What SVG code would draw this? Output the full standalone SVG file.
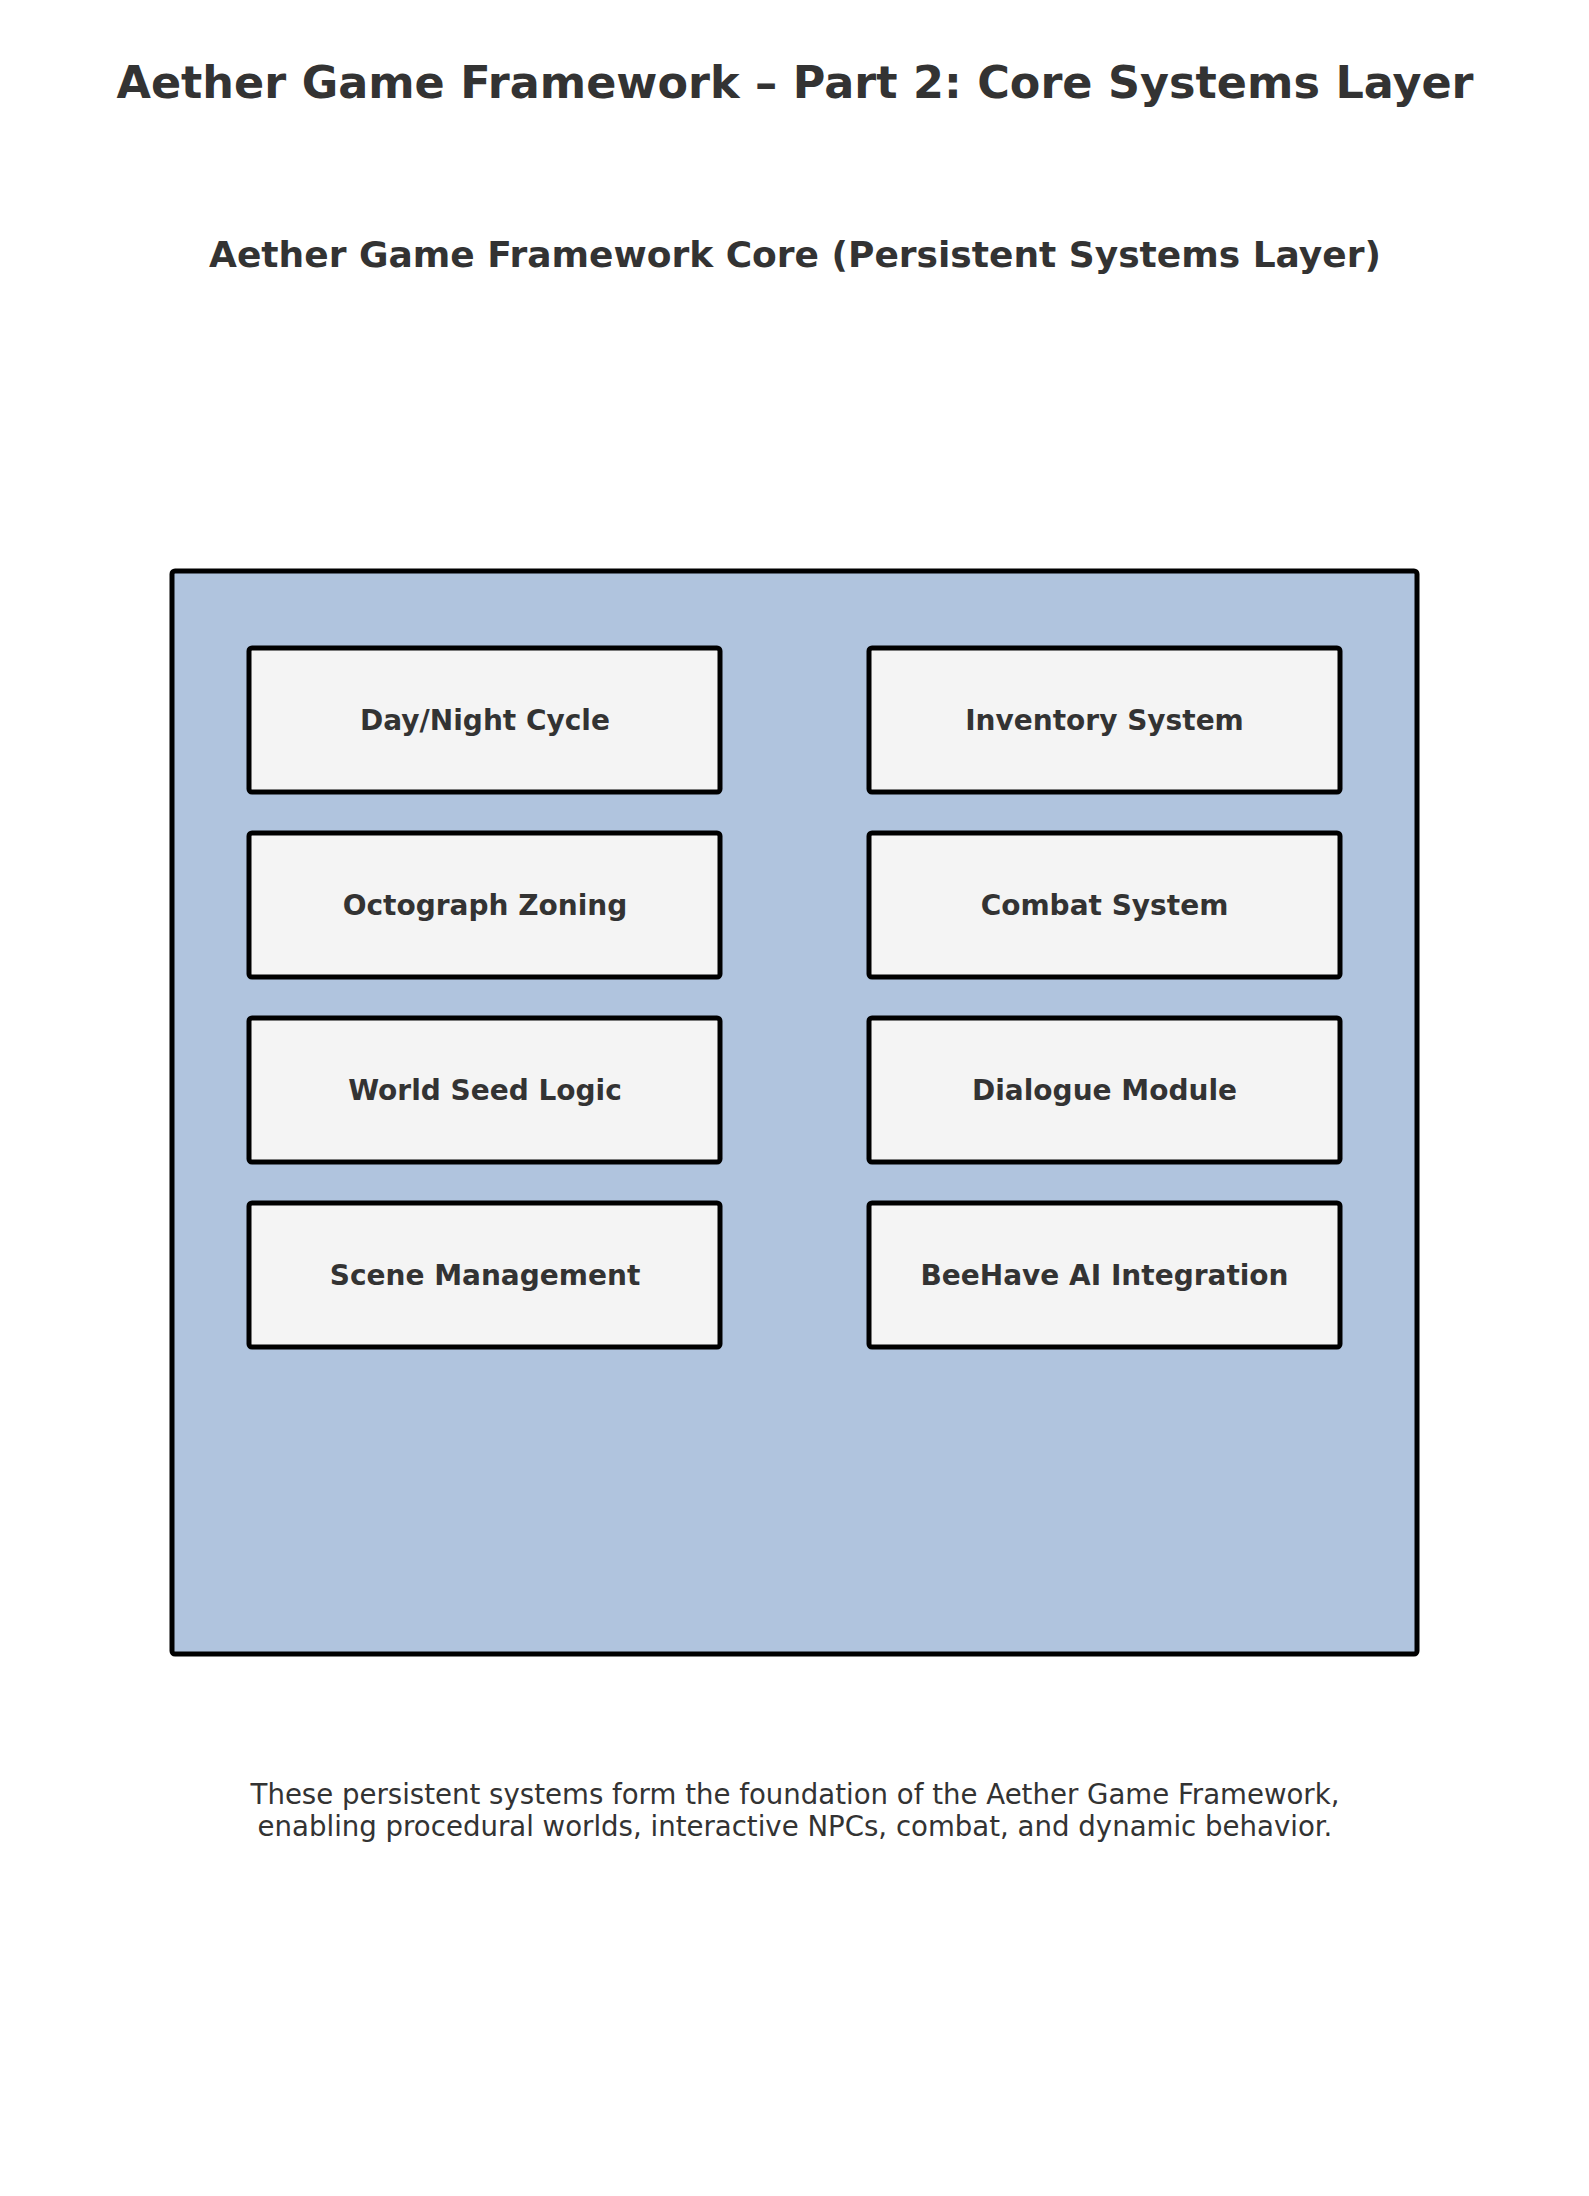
<svg xmlns="http://www.w3.org/2000/svg" width="1589" height="2196" viewBox="0 0 1589 2196">
<style>
.t{font-family:"DejaVu Sans",sans-serif;fill:#333333;text-anchor:middle}
.title{font-size:44.5px;font-weight:bold}
.sub{font-size:36px;font-weight:bold}
.lbl{font-size:28px;font-weight:bold}
.foot{font-size:27.6px}
.box{fill:#f4f4f4;stroke:#000;stroke-width:5}
</style>
<rect width="1589" height="2196" fill="#ffffff"/>
<text class="t title" x="795" y="98">Aether Game Framework – Part 2: Core Systems Layer</text>
<text class="t sub" x="795" y="267">Aether Game Framework Core (Persistent Systems Layer)</text>
<g id="core">
<rect x="172" y="571" width="1245" height="1083" rx="3" fill="#b0c4de" stroke="#000" stroke-width="5"/>
</g>
<g id="daynight"><rect class="box" x="249" y="648" width="471" height="144" rx="3"/><text class="t lbl" x="485" y="730">Day/Night Cycle</text></g>
<g id="inventory"><rect class="box" x="869" y="648" width="471" height="144" rx="3"/><text class="t lbl" x="1104.5" y="730">Inventory System</text></g>
<g id="octograph"><rect class="box" x="249" y="833" width="471" height="144" rx="3"/><text class="t lbl" x="485" y="915">Octograph Zoning</text></g>
<g id="combat"><rect class="box" x="869" y="833" width="471" height="144" rx="3"/><text class="t lbl" x="1104.5" y="915">Combat System</text></g>
<g id="worldseed"><rect class="box" x="249" y="1018" width="471" height="144" rx="3"/><text class="t lbl" x="485" y="1100">World Seed Logic</text></g>
<g id="dialogue"><rect class="box" x="869" y="1018" width="471" height="144" rx="3"/><text class="t lbl" x="1104.5" y="1100">Dialogue Module</text></g>
<g id="scene"><rect class="box" x="249" y="1203" width="471" height="144" rx="3"/><text class="t lbl" x="485" y="1285">Scene Management</text></g>
<g id="beehave"><rect class="box" x="869" y="1203" width="471" height="144" rx="3"/><text class="t lbl" x="1104.5" y="1285">BeeHave AI Integration</text></g>
<g id="connectors"></g>
<text class="t foot" x="795" y="1804">These persistent systems form the foundation of the Aether Game Framework,</text>
<text class="t foot" x="795" y="1836">enabling procedural worlds, interactive NPCs, combat, and dynamic behavior.</text>
</svg>
